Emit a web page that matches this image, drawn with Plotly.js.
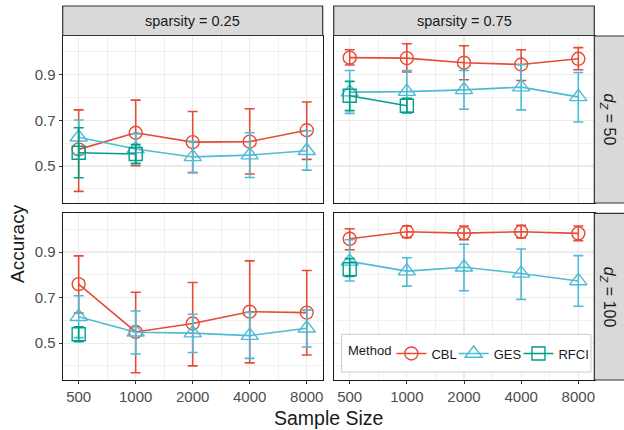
<!DOCTYPE html>
<html>
<head>
<meta charset="utf-8">
<script src="https://cdn.plot.ly/plotly-3.0.1.min.js"></script>
<style>html,body{margin:0;padding:0;background:#fff;}#chart{width:624px;height:430px;}</style>
</head>
<body>
<div id="chart"></div>
<script>
// ---- data ----
const sampleSizes = [500, 1000, 2000, 4000, 8000];
const tickLabels = ['500', '1000', '2000', '4000', '8000'];
const methods = ['CBL', 'GES', 'RFCI'];
const sparsityLabels = ['sparsity = 0.25', 'sparsity = 0.75'];
const dzLabels = ['<i>d</i><sub><i>Z</i></sub> = 50', '<i>d</i><sub><i>Z</i></sub> = 100'];

// sparsity 0.25, d_Z = 50
const cbl_s25_d50_mean = [0.573, 0.646, 0.605, 0.607, 0.657];
const cbl_s25_d50_lo   = [0.389, 0.501, 0.471, 0.465, 0.529];
const cbl_s25_d50_hi   = [0.746, 0.789, 0.739, 0.751, 0.781];
const ges_s25_d50_mean = [0.626, 0.575, 0.540, 0.548, 0.567];
const ges_s25_d50_lo   = [0.550, 0.509, 0.472, 0.450, 0.482];
const ges_s25_d50_hi   = [0.702, 0.641, 0.608, 0.646, 0.655];
const rfci_s25_d50_mean = [0.558, 0.553];
const rfci_s25_d50_lo   = [0.449, 0.512];
const rfci_s25_d50_hi   = [0.668, 0.594];

// sparsity 0.75, d_Z = 50
const cbl_s75_d50_mean = [0.975, 0.973, 0.953, 0.945, 0.970];
const cbl_s75_d50_lo   = [0.943, 0.912, 0.878, 0.875, 0.922];
const cbl_s75_d50_hi   = [1.010, 1.036, 1.027, 1.010, 1.019];
const ges_s75_d50_mean = [0.824, 0.826, 0.834, 0.846, 0.803];
const ges_s75_d50_lo   = [0.731, 0.733, 0.749, 0.746, 0.693];
const ges_s75_d50_hi   = [0.919, 0.919, 0.919, 0.944, 0.910];
const rfci_s75_d50_mean = [0.808, 0.764];
const rfci_s75_d50_lo   = [0.743, 0.734];
const rfci_s75_d50_hi   = [0.871, 0.797];

// sparsity 0.25, d_Z = 100
const cbl_s25_d100_mean = [0.759, 0.549, 0.586, 0.638, 0.634];
const cbl_s25_d100_lo   = [0.632, 0.370, 0.400, 0.413, 0.448];
const cbl_s25_d100_hi   = [0.883, 0.723, 0.766, 0.861, 0.819];
const ges_s25_d100_mean = [0.616, 0.548, 0.544, 0.533, 0.565];
const ges_s25_d100_lo   = [0.524, 0.452, 0.459, 0.433, 0.483];
const ges_s25_d100_hi   = [0.708, 0.641, 0.627, 0.635, 0.645];
const rfci_s25_d100_mean = [0.539];
const rfci_s25_d100_lo   = [0.506];
const rfci_s25_d100_hi   = [0.572];

// sparsity 0.75, d_Z = 100
const cbl_s75_d100_mean = [0.958, 0.989, 0.983, 0.989, 0.982];
const cbl_s75_d100_lo   = [0.910, 0.963, 0.954, 0.962, 0.950];
const cbl_s75_d100_hi   = [1.002, 1.014, 1.014, 1.017, 1.014];
const ges_s75_d100_mean = [0.859, 0.816, 0.833, 0.806, 0.773];
const ges_s75_d100_lo   = [0.773, 0.750, 0.730, 0.692, 0.662];
const ges_s75_d100_hi   = [0.954, 0.875, 0.934, 0.913, 0.884];
const rfci_s75_d100_mean = [0.824];
const rfci_s75_d100_lo   = [0.793];
const rfci_s75_d100_hi   = [0.871];

// ---- styling ----
const colors = {CBL: '#E64B35', GES: '#4DBBD5', RFCI: '#00A087'};
const symbols = {CBL: 'circle-open', GES: 'triangle-up-open', RFCI: 'square-open'};
const msizes = {CBL: 13, GES: 15, RFCI: 13};
const FONT = 'Liberation Sans, Arial, Helvetica, sans-serif';

const panels = [
  {xa: 'x',  ya: 'y',  data: {CBL: [cbl_s25_d50_mean, cbl_s25_d50_lo, cbl_s25_d50_hi], GES: [ges_s25_d50_mean, ges_s25_d50_lo, ges_s25_d50_hi], RFCI: [rfci_s25_d50_mean, rfci_s25_d50_lo, rfci_s25_d50_hi]}},
  {xa: 'x2', ya: 'y2', data: {CBL: [cbl_s75_d50_mean, cbl_s75_d50_lo, cbl_s75_d50_hi], GES: [ges_s75_d50_mean, ges_s75_d50_lo, ges_s75_d50_hi], RFCI: [rfci_s75_d50_mean, rfci_s75_d50_lo, rfci_s75_d50_hi]}},
  {xa: 'x3', ya: 'y3', data: {CBL: [cbl_s25_d100_mean, cbl_s25_d100_lo, cbl_s25_d100_hi], GES: [ges_s25_d100_mean, ges_s25_d100_lo, ges_s25_d100_hi], RFCI: [rfci_s25_d100_mean, rfci_s25_d100_lo, rfci_s25_d100_hi]}},
  {xa: 'x4', ya: 'y4', data: {CBL: [cbl_s75_d100_mean, cbl_s75_d100_lo, cbl_s75_d100_hi], GES: [ges_s75_d100_mean, ges_s75_d100_lo, ges_s75_d100_hi], RFCI: [rfci_s75_d100_mean, rfci_s75_d100_lo, rfci_s75_d100_hi]}}
];

const traces = [];
panels.forEach((p, pi) => {
  methods.forEach(m => {
    const [mean, lo, hi] = p.data[m];
    traces.push({
      type: 'scatter', mode: 'lines+markers',
      x: sampleSizes.slice(0, mean.length), y: mean,
      xaxis: p.xa, yaxis: p.ya,
      name: m, legendgroup: m, showlegend: pi === 0,
      line: {color: colors[m], width: 1.6},
      marker: {symbol: symbols[m], size: msizes[m], color: colors[m], line: {color: colors[m], width: 1.4}},
      error_y: {type: 'data', symmetric: false,
        array: mean.map((v, i) => hi[i] - v),
        arrayminus: mean.map((v, i) => v - lo[i]),
        color: colors[m], thickness: 1.6, width: 5},
      hoverinfo: 'skip'
    });
  });
});

// pixel -> paper helpers
const W = 624, H = 430;
const px = v => v / W, py = v => 1 - v / H;
const L0 = 62.7, L1 = 322.7, R0 = 333.7, R1 = 594.3;
const T0 = 36, T1 = 203, B0 = 213.3, B1 = 380;
const xr = [Math.log10(500) - 0.28 * Math.log10(2), Math.log10(8000) + 0.28 * Math.log10(2)];
const yr = [0.338, 1.07];

function xaxis(dom, anchor, showLabels) {
  return {
    type: 'log', domain: dom, anchor: anchor, range: xr,
    tickmode: 'array', tickvals: sampleSizes, ticktext: tickLabels,
    showticklabels: showLabels, ticks: showLabels ? 'outside' : '', ticklen: 3, tickwidth: 1, tickcolor: '#333333',
    tickfont: {family: FONT, size: 15, color: '#4D4D4D'},
    showgrid: true, gridcolor: '#EBEBEB', gridwidth: 1.2,
    minor: {tickmode: 'array', tickvals: [707.1, 1414.2, 2828.4, 5656.9], showgrid: true, gridcolor: '#F0F0F0', gridwidth: 1, ticks: ''},
    showline: true, mirror: true, linecolor: '#1A1A1A', linewidth: 1.2,
    zeroline: false, fixedrange: true
  };
}
function yaxis(dom, anchor, showLabels) {
  return {
    domain: dom, anchor: anchor, range: yr,
    tickmode: 'array', tickvals: [0.5, 0.7, 0.9], ticktext: ['0.5', '0.7', '0.9'],
    showticklabels: showLabels, ticks: showLabels ? 'outside' : '', ticklen: 3, tickwidth: 1, tickcolor: '#333333',
    tickfont: {family: FONT, size: 15, color: '#4D4D4D'},
    showgrid: true, gridcolor: '#EBEBEB', gridwidth: 1.2,
    minor: {tickmode: 'array', tickvals: [0.4, 0.6, 0.8, 1.0], showgrid: true, gridcolor: '#F0F0F0', gridwidth: 1, ticks: ''},
    showline: true, mirror: true, linecolor: '#1A1A1A', linewidth: 1.2,
    zeroline: false, fixedrange: true
  };
}

const stripStyle = {type: 'rect', xref: 'paper', yref: 'paper', fillcolor: '#D9D9D9', line: {color: '#333333', width: 1.2}, layer: 'above'};
const shapes = [
  Object.assign({}, stripStyle, {x0: px(L0), x1: px(L1), y0: py(35.5), y1: py(6)}),
  Object.assign({}, stripStyle, {x0: px(R0), x1: px(R1), y0: py(35.5), y1: py(6)}),
  Object.assign({}, stripStyle, {x0: px(R1), x1: px(626), y0: py(T1), y1: py(T0)}),
  Object.assign({}, stripStyle, {x0: px(R1), x1: px(626), y0: py(B1), y1: py(B0)}),
  // legend box
  {type: 'rect', xref: 'paper', yref: 'paper', x0: px(341.7), x1: px(591), y0: py(372), y1: py(334.3), fillcolor: '#FFFFFF', line: {color: '#CCCCCC', width: 1}, layer: 'above'}
];

const stripFont = {family: FONT, size: 14.5, color: '#1A1A1A'};
const dzFont = {family: FONT, size: 16, color: '#1A1A1A'};
const annotations = [
  {text: sparsityLabels[0], x: px((L0 + L1) / 2), y: py(21), xref: 'paper', yref: 'paper', showarrow: false, font: stripFont, xanchor: 'center', yanchor: 'middle'},
  {text: sparsityLabels[1], x: px((R0 + R1) / 2), y: py(21), xref: 'paper', yref: 'paper', showarrow: false, font: stripFont, xanchor: 'center', yanchor: 'middle'},
  {text: dzLabels[0], x: px(608), y: py((T0 + T1) / 2), xref: 'paper', yref: 'paper', showarrow: false, font: dzFont, textangle: 90, xanchor: 'center', yanchor: 'middle'},
  {text: dzLabels[1], x: px(608), y: py((B0 + B1) / 2), xref: 'paper', yref: 'paper', showarrow: false, font: dzFont, textangle: 90, xanchor: 'center', yanchor: 'middle'},
  {text: 'Sample Size', x: px((L0 + R1) / 2), y: py(418), xref: 'paper', yref: 'paper', showarrow: false, font: {family: FONT, size: 19.5, color: '#1A1A1A'}, xanchor: 'center', yanchor: 'middle'},
  {text: 'Accuracy', x: px(18), y: py(244), xref: 'paper', yref: 'paper', showarrow: false, font: {family: FONT, size: 19, color: '#1A1A1A'}, textangle: -90, xanchor: 'center', yanchor: 'middle'}
];

const layout = {
  width: W, height: H,
  margin: {l: 0, r: 0, t: 0, b: 0},
  paper_bgcolor: '#FFFFFF', plot_bgcolor: '#FFFFFF',
  font: {family: FONT, color: '#1A1A1A'},
  xaxis: xaxis([px(L0), px(L1)], 'y', false),
  xaxis2: xaxis([px(R0), px(R1)], 'y2', false),
  xaxis3: xaxis([px(L0), px(L1)], 'y3', true),
  xaxis4: xaxis([px(R0), px(R1)], 'y4', true),
  yaxis: yaxis([py(T1), py(T0)], 'x', true),
  yaxis2: yaxis([py(T1), py(T0)], 'x2', false),
  yaxis3: yaxis([py(B1), py(B0)], 'x3', true),
  yaxis4: yaxis([py(B1), py(B0)], 'x4', false),
  showlegend: true,
  legend: {
    orientation: 'h', x: px(346), y: py(353.5), xanchor: 'left', yanchor: 'middle',
    bgcolor: 'rgba(0,0,0,0)', borderwidth: 0,
    font: {family: FONT, size: 13, color: '#1A1A1A'},
    title: {text: 'Method', side: 'left', font: {family: FONT, size: 13, color: '#1A1A1A'}},
    itemwidth: 30, indentation: -8, tracegroupgap: 0, valign: 'middle'
  },
  shapes: shapes,
  annotations: annotations
};

Plotly.newPlot('chart', traces, layout, {staticPlot: true, displayModeBar: false});
</script>
</body>
</html>
